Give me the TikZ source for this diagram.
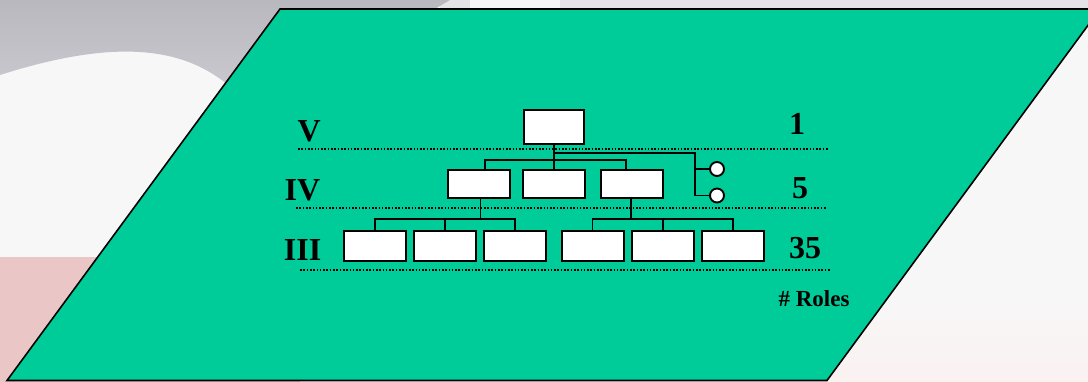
\documentclass[tikz,border=0pt]{standalone}
\usepackage{fontspec}
\setmainfont{Liberation Serif}
\definecolor{plgreen}{HTML}{00CC99}
\definecolor{bgwhite}{HTML}{F8F7F7}
\definecolor{bggray}{HTML}{C8C8CE}
\definecolor{bggraydark}{HTML}{B8B8BE}
\definecolor{bglight}{HTML}{E4E4E6}
\definecolor{bgpink}{HTML}{EBC6C6}
\definecolor{bgpinklight}{HTML}{FAF1F1}
\begin{document}
\begin{tikzpicture}[x=1pt,y=-1pt,
  box/.style={draw=black,fill=white,line width=2pt,inner sep=0pt},
  topbox/.style={box,minimum width=60.7pt,minimum height=34pt},
  midbox/.style={box,minimum width=61.3pt,minimum height=28.3pt},
  lowbox/.style={box,minimum width=62pt,minimum height=30.3pt},
  conn/.style={line width=1.8pt,draw=black},
  guide/.style={line width=1.4pt,dash pattern=on 1.6pt off 1.7pt},
  lvl/.style={font=\bfseries\fontsize{32}{36}\selectfont,inner sep=0pt},
  small/.style={font=\bfseries\fontsize{23}{26}\selectfont,inner sep=0pt},
  circ/.style={circle,draw=black,fill=white,line width=1.9pt,minimum size=14pt,inner sep=0pt}]
\useasboundingbox (0,0) rectangle (1088,382);
% background photo (approximation)
\fill[bgwhite] (0,0) rectangle (1088,382);
\fill[bglight] (440,0) rectangle (1088,12);
\fill[bgwhite] (470,0) rectangle (560,12);
\shade[top color=bggraydark,bottom color=bggray] (0,0) -- (450,0) -- (430,12) -- (280,12) -- (228,85)
  .. controls (180,45) and (110,40) .. (0,75) -- cycle;
\fill[bgpink] (0,257) rectangle (300,382);
\shade[top color=bgwhite,bottom color=bgpinklight] (820,300) rectangle (1088,382);
% parallelogram
\draw[fill=plgreen,line width=1.6pt] (280,9) -- (1100,9) -- (827,380.5) -- (7,380.5) -- cycle;
% guide lines
\draw[guide] (298,149) -- (828,149);
\draw[guide] (296,208) -- (826,208);
\draw[guide] (300,270) -- (830,270);
% boxes
\node[topbox] (top) at (554,127) {};
\node[midbox] (m1) at (479,184.2) {};
\node[midbox] (m2) at (554,184.2) {};
\node[midbox] (m3) at (632,184.2) {};
\node[lowbox] (l1) at (375.3,246.2) {};
\node[lowbox] (l2) at (445.3,246.2) {};
\node[lowbox] (l3) at (515.3,246.2) {};
\node[lowbox] (l4) at (592.5,246.2) {};
\node[lowbox] (l5) at (662.7,246.2) {};
\node[lowbox] (l6) at (732.7,246.2) {};
\node[circ] (c1) at (717,169) {};
\node[circ] (c2) at (717,195.5) {};
% connectors
\coordinate (b4) at (554,160);
\coordinate (s1) at (554,153);
\coordinate (k) at (695,153);
\coordinate (b3l) at (480.5,219);
\coordinate (b3r) at (631,219);
\draw[conn] (top.south) -- (m2.north);
\draw[conn] ([xshift=6pt]m1.north) |- (b4) -| ([xshift=-6pt]m3.north);
\draw[conn] (s1) -- (k) -- (k |- c2) -- (c2);
\draw[conn] (k |- c1) -- (c1);
\draw[conn] ([xshift=1.5pt]m1.south) -- (b3l);
\draw[conn] (l1.north) |- (b3l) -| (l3.north);
\draw[conn] (l2.north) -- (l2.north |- b3l);
\draw[conn] ([xshift=-1pt]m3.south) -- (b3r);
\draw[conn] (l4.north) |- (b3r) -| (l6.north);
\draw[conn] (l5.north) -- (l5.north |- b3r);
% labels
\node[lvl,anchor=east] (lv) at (321,131) {V};
\node[lvl,anchor=east] (liv) at (320.5,190) {IV};
\node[lvl,anchor=east] (liii) at (321.5,249.7) {III};
\node[lvl] (n1) at (797,124.3) {1};
\node[lvl] (n5) at (800,188) {5};
\node[lvl] (n35) at (805,248) {35};
\node[small] (roles) at (814,299) {\# Roles};
\end{tikzpicture}
\end{document}
